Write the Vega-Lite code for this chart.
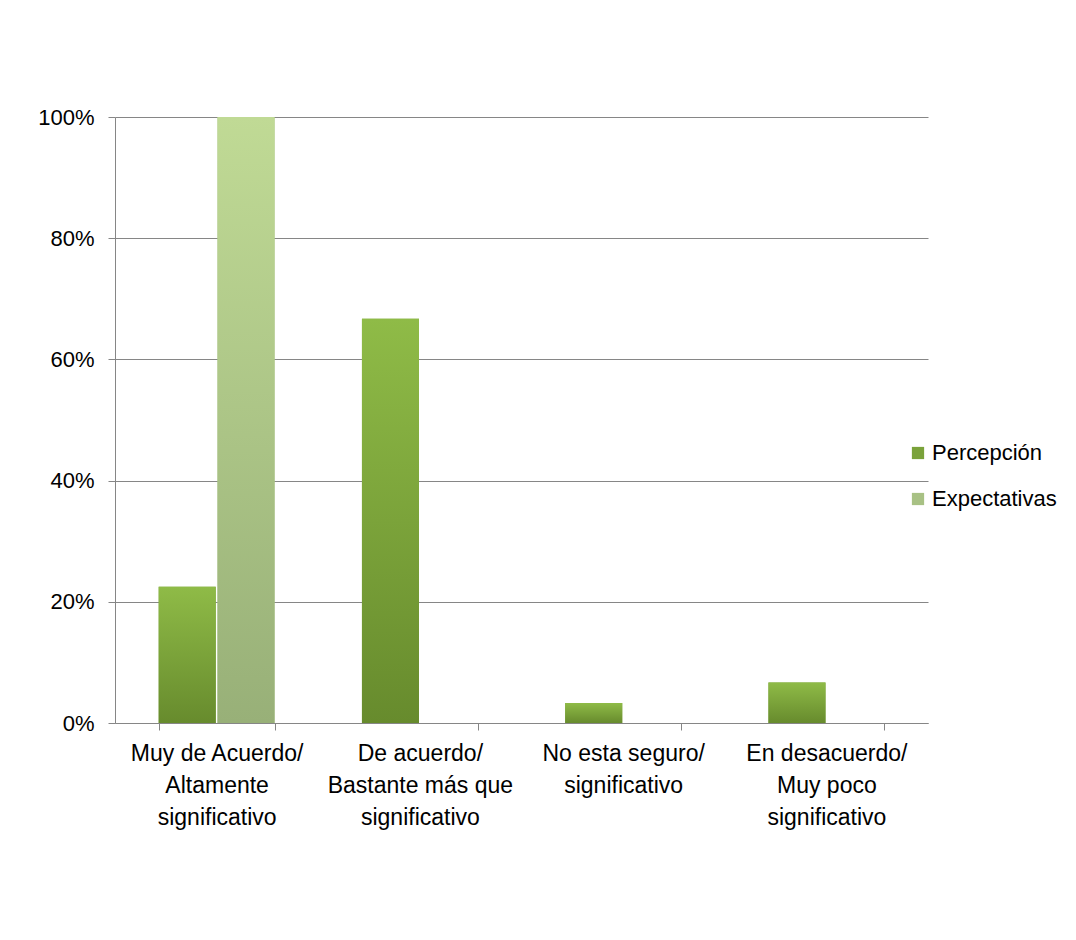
{
  "$schema": "https://vega.github.io/schema/vega-lite/v6.json",
  "width": 813,
  "height": 606,
  "autosize": "none",
  "padding": {"left": 115, "top": 117, "right": 148, "bottom": 217},
  "background": "white",
  "config": {
    "view": {"stroke": null},
    "font": "Liberation Sans",
    "axis": {"labelFont": "Liberation Sans", "labelColor": "#000000", "labelFontSize": 22}
  },
  "data": {
    "values": [
      {"categoria": "Muy de Acuerdo/ Altamente significativo", "serie": "Percepción", "valor": 0.225},
      {"categoria": "Muy de Acuerdo/ Altamente significativo", "serie": "Expectativas", "valor": 1.0},
      {"categoria": "De acuerdo/ Bastante más que significativo", "serie": "Percepción", "valor": 0.667},
      {"categoria": "No esta seguro/ significativo", "serie": "Percepción", "valor": 0.033},
      {"categoria": "En desacuerdo/ Muy poco significativo", "serie": "Percepción", "valor": 0.067}
    ]
  },
  "encoding": {
    "x": {
      "field": "categoria",
      "type": "nominal",
      "sort": null,
      "scale": {"paddingInner": 0.43, "paddingOuter": 0.215},
      "axis": {
        "title": null,
        "labelAngle": 0,
        "tickBand": "extent",
        "tickSize": 7,
        "tickColor": "#868686",
        "domainColor": "#868686",
        "labelPadding": 12,
        "labelFontSize": 23,
        "labelLimit": 400,
        "labelLineHeight": 32,
        "labelBaseline": "top",
        "labelExpr": "datum.value == 'Muy de Acuerdo/ Altamente significativo' ? ['Muy de Acuerdo/', 'Altamente', 'significativo'] : datum.value == 'De acuerdo/ Bastante más que significativo' ? ['De acuerdo/', 'Bastante más que', 'significativo'] : datum.value == 'No esta seguro/ significativo' ? ['No esta seguro/', 'significativo'] : datum.value == 'En desacuerdo/ Muy poco significativo' ? ['En desacuerdo/', 'Muy poco', 'significativo'] : ''"
      }
    },
    "xOffset": {
      "field": "serie",
      "type": "nominal",
      "sort": ["Percepción", "Expectativas"],
      "scale": {"paddingInner": 0.03}
    },
    "y": {
      "field": "valor",
      "type": "quantitative",
      "scale": {"domain": [0, 1]},
      "axis": {
        "title": null,
        "values": [0, 0.2, 0.4, 0.6, 0.8, 1.0],
        "format": ".0%",
        "tickSize": 7,
        "tickColor": "#868686",
        "domainColor": "#868686",
        "gridColor": "#868686",
        "labelPadding": 14
      }
    }
  },
  "layer": [
    {
      "mark": {"type": "bar"},
      "encoding": {
        "color": {
          "field": "serie",
          "type": "nominal",
          "sort": ["Percepción", "Expectativas"],
          "scale": {"domain": ["Percepción", "Expectativas"], "range": ["#7aa23a", "#a8c184"]},
          "legend": {
            "title": null,
            "orient": "none",
            "legendX": 792,
            "legendY": 325,
            "labelFontSize": 22,
            "labelFont": "Liberation Sans",
            "labelColor": "#000000",
            "labelLimit": 300,
            "symbolType": "square",
            "symbolSize": 150,
            "symbolStrokeWidth": 0,
            "labelOffset": 3,
            "rowPadding": 24
          }
        }
      }
    },
    {
      "transform": [{"filter": "datum.serie == 'Percepción'"}],
      "mark": {
        "type": "bar",
        "color": {
          "gradient": "linear", "x1": 0, "y1": 0, "x2": 0, "y2": 1,
          "stops": [{"offset": 0, "color": "#8fbb47"}, {"offset": 1, "color": "#678b2d"}]
        }
      }
    },
    {
      "transform": [{"filter": "datum.serie == 'Expectativas'"}],
      "mark": {
        "type": "bar",
        "color": {
          "gradient": "linear", "x1": 0, "y1": 0, "x2": 0, "y2": 1,
          "stops": [{"offset": 0, "color": "#c0da95"}, {"offset": 1, "color": "#98b078"}]
        }
      }
    }
  ]
}
